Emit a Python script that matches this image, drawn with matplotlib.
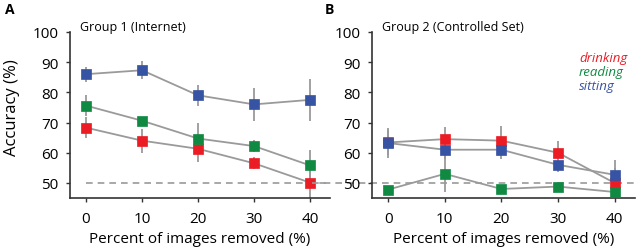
import matplotlib
matplotlib.use("Agg")
import matplotlib.pyplot as plt

plt.rcParams['font.family'] = ['Open Sans', 'DejaVu Sans']

removed = [0, 10, 20, 30, 40]
yticks = [50, 60, 70, 80, 90, 100]

# Group 1 (Internet)
g1_drinking = [68.3, 64.0, 61.3, 56.5, 50.1]
g1_drinking_err = [3.5, 4.0, 4.5, 2.0, 5.0]
g1_reading = [75.6, 70.6, 64.7, 62.2, 55.8]
g1_reading_err = [3.5, 1.0, 5.0, 2.0, 5.0]
g1_sitting = [86.0, 87.3, 79.0, 76.0, 77.5]
g1_sitting_err = [2.5, 3.0, 3.5, 5.5, 7.0]

# Group 2 (Controlled Set)
g2_drinking = [63.4, 64.5, 64.0, 60.0, 50.0]
g2_drinking_err = [4.0, 4.0, 5.0, 4.0, 5.0]
g2_reading = [47.8, 53.0, 48.0, 48.8, 47.0]
g2_reading_err = [1.0, 6.0, 1.0, 1.0, 2.0]
g2_sitting = [63.2, 61.0, 61.0, 56.0, 52.7]
g2_sitting_err = [5.0, 3.0, 3.0, 2.5, 5.0]

red = '#ec1c24'
green = '#108a42'
blue = '#3753a4'
gray = '#9a9a9a'

fig = plt.figure(figsize=(6.4, 2.51), dpi=100)
axA = fig.add_axes([0.109, 0.207, 0.407, 0.662])
axB = fig.add_axes([0.581, 0.207, 0.411, 0.662])


def draw_series(ax, y, err, color):
    ax.errorbar(removed, y, yerr=err, fmt='none', ecolor=gray, elinewidth=1.3, capsize=0, zorder=1)
    ax.plot(removed, y, color=gray, lw=1.3, zorder=2)
    ax.plot(removed, y, 's', ms=7.5, color=color, mec=color, mew=0.5, zorder=3)


def style(ax):
    ax.set_xlim(-2.9, 43.6)
    ax.set_ylim(45, 100)
    ax.set_xticks(removed)
    ax.set_yticks(yticks)
    for s in ['top', 'right']:
        ax.spines[s].set_visible(False)
    ax.spines['left'].set_bounds(45, 100)
    for s in ['left', 'bottom']:
        ax.spines[s].set_linewidth(1.2)
        ax.spines[s].set_color('#333333')
    ax.tick_params(direction='out', length=3, width=1.0, color='#333333', labelsize=11)
    ax.tick_params(axis='x', pad=6)
    ax.tick_params(axis='y', pad=5)
    ax.set_xlabel('Percent of images removed (%)', fontsize=11, labelpad=4)


draw_series(axA, g1_drinking, g1_drinking_err, red)
draw_series(axA, g1_reading, g1_reading_err, green)
draw_series(axA, g1_sitting, g1_sitting_err, blue)
axA.plot([0, 43.6], [50, 50], ls='--', color=gray, lw=1.2, dashes=(4, 3), zorder=0, clip_on=False)
style(axA)
axA.set_ylabel('Accuracy (%)', fontsize=12)
axA.yaxis.set_label_coords(-0.19, 0.55)
axA.text(0.038, 1.012, 'Group 1 (Internet)', transform=axA.transAxes, fontsize=9, va='baseline')

draw_series(axB, g2_drinking, g2_drinking_err, red)
draw_series(axB, g2_sitting, g2_sitting_err, blue)
draw_series(axB, g2_reading, g2_reading_err, green)
axB.plot([-13.5, 43.6], [50, 50], ls='--', color=gray, lw=1.2, dashes=(4, 3), zorder=0, clip_on=False)
style(axB)
axB.text(0.038, 1.012, 'Group 2 (Controlled Set)', transform=axB.transAxes, fontsize=9, va='baseline')

for i, (name, c) in enumerate([('drinking', red), ('reading', green), ('sitting', blue)]):
    axB.text(33.7, 91.5 - i * 4.6, name, color=c, fontsize=9.5, style='italic', va='center')

fig.text(0.008, 0.96, 'A', fontsize=10, fontweight='bold', va='center')
fig.text(0.508, 0.96, 'B', fontsize=10, fontweight='bold', va='center')

fig.savefig('out.png', dpi=100)
